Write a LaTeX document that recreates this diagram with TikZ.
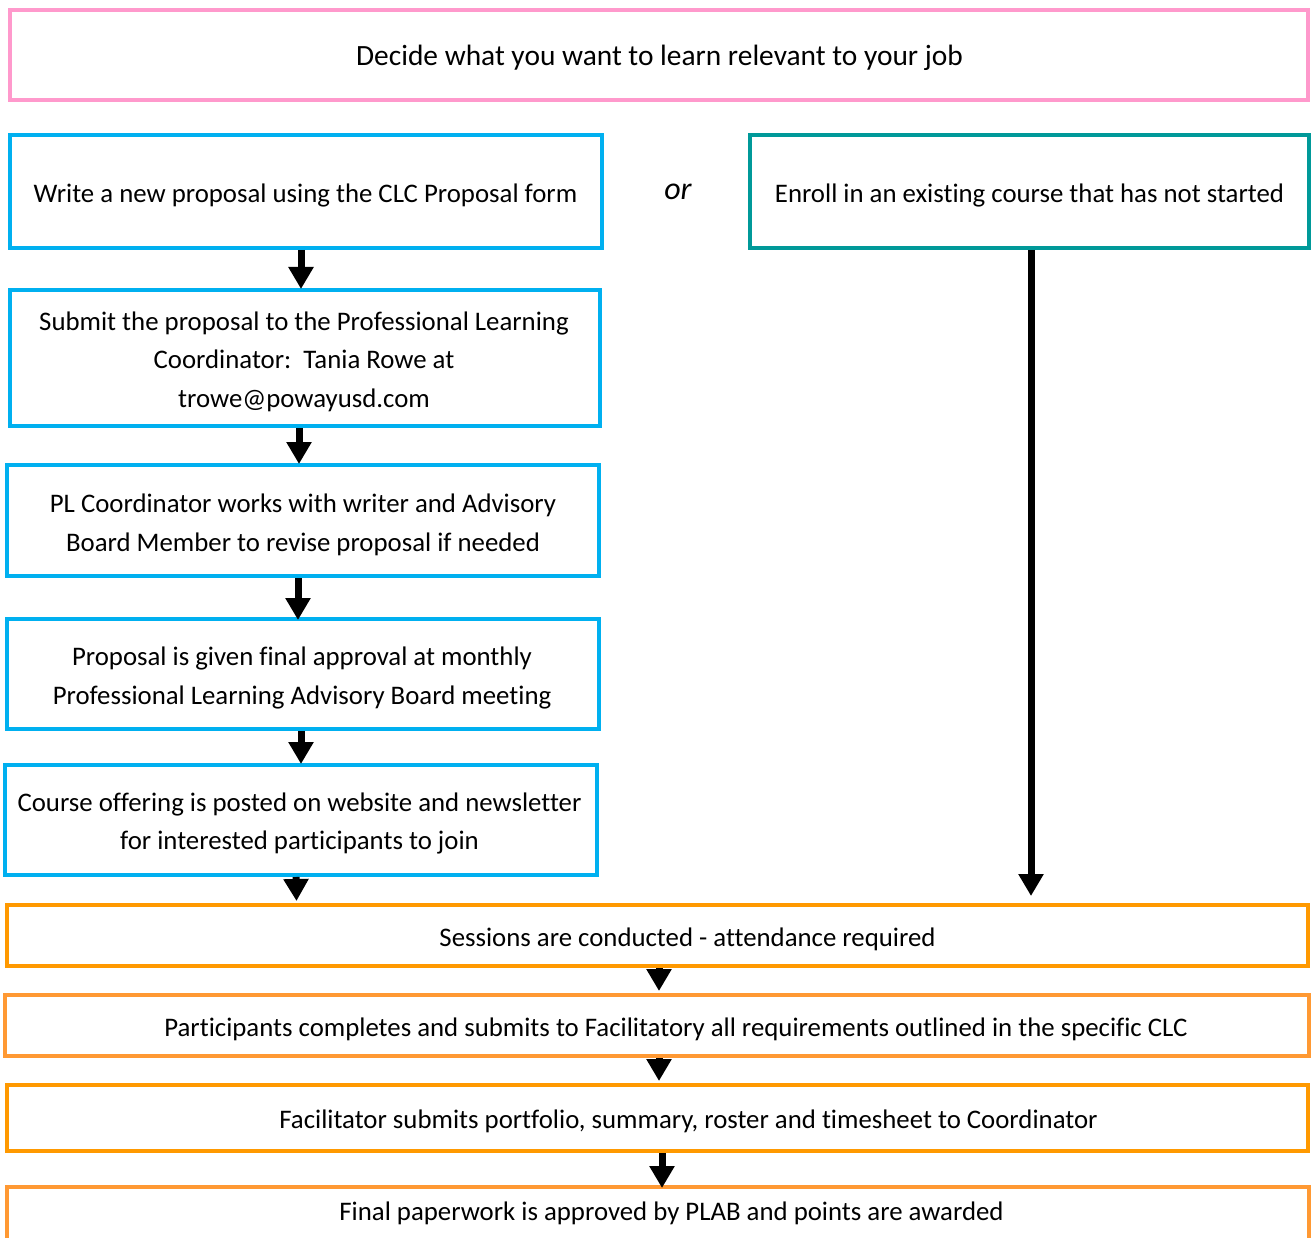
\documentclass[tikz,border=0pt]{standalone}
\usepackage{fontspec}
\setmainfont{Carlito}[Ligatures=CommonOff]
\usetikzlibrary{arrows.meta}
\definecolor{cpink}{HTML}{FF99CC}
\definecolor{cblue}{HTML}{00B0F0}
\definecolor{cteal}{HTML}{009999}
\definecolor{corgA}{HTML}{FF9900}
\definecolor{corgB}{HTML}{FF9933}
\tikzset{
  box/.style={draw, line width=4pt, rectangle, inner sep=0pt},
  arr/.style={line width=7pt, -{Triangle[width=24pt,length=22pt]}},
  lbl/.style={inner sep=0pt, align=center, font=\fontsize{26.8}{38.5}\selectfont}
}
\begin{document}
\begin{tikzpicture}[x=1pt,y=-1pt]
\useasboundingbox (0,0) rectangle (1311,1238);
% boxes
\node[box, draw=cpink, minimum width=1298pt, minimum height=90pt] (top) at (659,55) {};
\node[box, draw=cblue, minimum width=592pt, minimum height=113pt] (b1) at (306,191.5) {};
\node[box, draw=cteal, minimum width=559pt, minimum height=113pt] (tl) at (1029.5,191.5) {};
\node[box, draw=cblue, minimum width=590pt, minimum height=136pt] (b2) at (305,358) {};
\node[box, draw=cblue, minimum width=592pt, minimum height=111pt] (b3) at (303,520.5) {};
\node[box, draw=cblue, minimum width=592pt, minimum height=110pt] (b4) at (303,674) {};
\node[box, draw=cblue, minimum width=592pt, minimum height=110pt] (b5) at (301,820) {};
\node[box, draw=corgA, minimum width=1301pt, minimum height=61pt] (o1) at (657.5,935.5) {};
\node[box, draw=corgB, minimum width=1304pt, minimum height=61pt] (o2) at (657,1025.5) {};
\node[box, draw=corgA, minimum width=1301pt, minimum height=66pt] (o3) at (657.5,1118) {};
\node[box, draw=corgB, minimum width=1302pt, minimum height=54pt] (o4) at (658,1214) {};
% texts
\node[lbl, font=\fontsize{29.4}{38.5}\selectfont] (ttop) at (659.5,58) {Decide what you want to learn relevant to your job};
\node[lbl] (tb1) at (305.5,195.5) {Write a new proposal using the CLC Proposal form};
\node[inner sep=0pt, font=\fontsize{32}{34}\selectfont\itshape] (or) at (678,191.5) {or};
\node[lbl] (ttl) at (1029.5,195.5) {Enroll in an existing course that has not started};
\node[lbl] (tb2) at (304,361.5) {Submit the proposal to the Professional Learning\\Coordinator:\ \ Tania Rowe at\\trowe@powayusd.com};
\node[lbl] (tb3) at (303,525) {PL Coordinator works with writer and Advisory\\Board Member to revise proposal if needed};
\node[lbl] (tb4) at (302,678) {Proposal is given final approval at monthly\\Professional Learning Advisory Board meeting};
\node[lbl] (tb5) at (299.5,823.5) {Course offering is posted on website and newsletter\\for interested participants to join};
\node[lbl] (t1) at (687.5,939) {Sessions are conducted - attendance required};
\node[lbl] (t2) at (676,1029) {Participants completes and submits to Facilitatory all requirements outlined in the specific CLC};
\node[lbl] (t3) at (688.5,1121) {Facilitator submits portfolio, summary, roster and timesheet to Coordinator};
\node[lbl] (t4) at (671.5,1213) {Final paperwork is approved by PLAB and points are awarded};
% arrows
\draw[arr] ([xshift=-5pt]b1.south) -- ([xshift=-4pt,yshift=-1pt]b2.north);
\draw[arr] ([xshift=-6pt]b2.south) -- ([xshift=-4pt,yshift=-1pt]b3.north);
\draw[arr] ([xshift=-5pt]b3.south) -- ([xshift=-5pt,yshift=-3pt]b4.north);
\draw[arr] ([xshift=-2pt]b4.south) -- ([xshift=0pt,yshift=-1pt]b5.north);
\draw[arr] ([xshift=-5pt]b5.south) -- ([xshift=-361pt,yshift=2pt]o1.north);
\draw[arr, shorten >=7pt] ([xshift=1.5pt]tl.south) -- ([xshift=373.5pt]o1.north);
\draw[arr] ([xshift=1.5pt]o1.south) -- ([xshift=2pt,yshift=2pt]o2.north);
\draw[arr] ([xshift=2pt]o2.south) -- ([xshift=1.5pt,yshift=2pt]o3.north);
\draw[arr] ([xshift=4.5pt]o3.south) -- ([xshift=4pt,yshift=-3pt]o4.north);
\end{tikzpicture}
\end{document}
